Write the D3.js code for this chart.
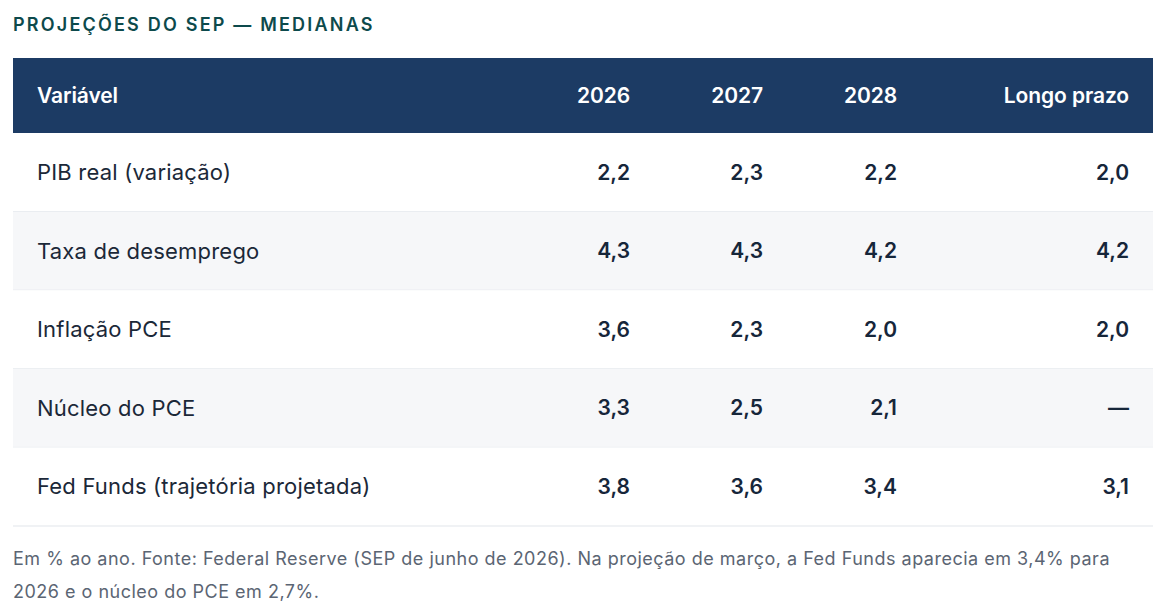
<!DOCTYPE html>
<html>
<head>
<meta charset="utf-8">
<script src="https://cdn.jsdelivr.net/npm/d3@7"></script>
<style>
  html, body { margin: 0; padding: 0; background: #ffffff; }
  svg text { font-family: "Inter", "Lato", sans-serif; }
</style>
</head>
<body>
<svg id="chart"></svg>
<script>
const title = "PROJEÇÕES DO SEP — MEDIANAS";
const columns = ["2026", "2027", "2028", "Longo prazo"];
const variables = [
    "PIB real (variação)",
    "Taxa de desemprego",
    "Inflação PCE",
    "Núcleo do PCE",
    "Fed Funds (trajetória projetada)"
];
const v2026 = [2.2, 4.3, 3.6, 3.3, 3.8];
const v2027 = [2.3, 4.3, 2.3, 2.5, 3.6];
const v2028 = [2.2, 4.2, 2.0, 2.1, 3.4];
const vLong = [2.0, 4.2, 2.0, null, 3.1];
const notes = [
    "Em % ao ano. Fonte: Federal Reserve (SEP de junho de 2026). Na projeção de março, a Fed Funds aparecia em 3,4% para",
    "2026 e o núcleo do PCE em 2,7%."
];

const width = 1174, height = 602;
const left = 13, right = 1153;
const headerTop = 58, headerH = 75;
const rowH = 78.6;

const fmt = d => d == null ? "—" : d3.format(".1f")(d).replace(".", ",");
const rows = variables.map((name, i) => ({
    name: name,
    values: [v2026[i], v2027[i], v2028[i], vLong[i]]
}));

const svg = d3.select("#chart").attr("width", width).attr("height", height);

// column right edges
const colX = d3.scaleOrdinal().domain(columns).range([630, 763, 897, 1129]);
const rowY = d3.scaleBand()
    .domain(d3.range(rows.length))
    .range([headerTop + headerH, headerTop + headerH + rowH * rows.length]);

svg.append("text")
    .attr("x", left).attr("y", 31)
    .attr("fill", "#0d4a4c")
    .style("font-size", "18px").style("font-weight", 600)
    .style("letter-spacing", "2.2px")
    .text(title);

// header
const head = svg.append("g");
head.append("rect")
    .attr("x", left).attr("y", headerTop)
    .attr("width", right - left).attr("height", headerH)
    .attr("fill", "#1c3b64");
head.append("text")
    .attr("x", 37).attr("y", headerTop + headerH / 2)
    .attr("dy", "0.35em").attr("fill", "#fff")
    .style("font-size", "21px").style("font-weight", 600)
    .style("letter-spacing", "-0.1px")
    .text("Variável");
head.selectAll(".col")
    .data(columns)
    .join("text")
    .attr("x", d => colX(d)).attr("y", headerTop + headerH / 2)
    .attr("dy", "0.35em").attr("text-anchor", "end").attr("fill", "#fff")
    .style("font-size", "21px").style("font-weight", 600)
    .style("letter-spacing", "-0.1px")
    .text(d => d);

// body rows
const row = svg.selectAll(".row")
    .data(rows)
    .join("g")
    .attr("class", "row")
    .attr("transform", (d, i) => `translate(0,${rowY(i)})`);

row.append("rect")
    .attr("x", left).attr("width", right - left)
    .attr("height", rowY.bandwidth())
    .attr("fill", (d, i) => i % 2 ? "#f6f7f9" : "#ffffff");

row.append("line")
    .attr("x1", left).attr("x2", right)
    .attr("y1", rowY.bandwidth()).attr("y2", rowY.bandwidth())
    .attr("stroke", "#e1e5ea").attr("stroke-width", 1);

row.append("text")
    .attr("x", 37).attr("y", rowY.bandwidth() / 2)
    .attr("dy", "0.35em").attr("fill", "#1b2838")
    .style("font-size", "22px")
    .style("letter-spacing", "0.2px")
    .text(d => d.name);

row.selectAll(".val")
    .data(d => d.values.map((v, j) => ({ col: columns[j], v: v })))
    .join("text")
    .attr("x", d => colX(d.col)).attr("y", rowY.bandwidth() / 2)
    .attr("dy", "0.35em").attr("text-anchor", "end").attr("fill", "#16263a")
    .style("font-size", "21px").style("font-weight", 600)
    .text(d => fmt(d.v));

// footnote
svg.selectAll(".note")
    .data(notes)
    .join("text")
    .attr("x", left).attr("y", (d, i) => 565 + i * 33)
    .attr("fill", "#5b6573")
    .style("font-size", "18px")
    .style("letter-spacing", "0.5px")
    .text(d => d);
</script>
</body>
</html>
